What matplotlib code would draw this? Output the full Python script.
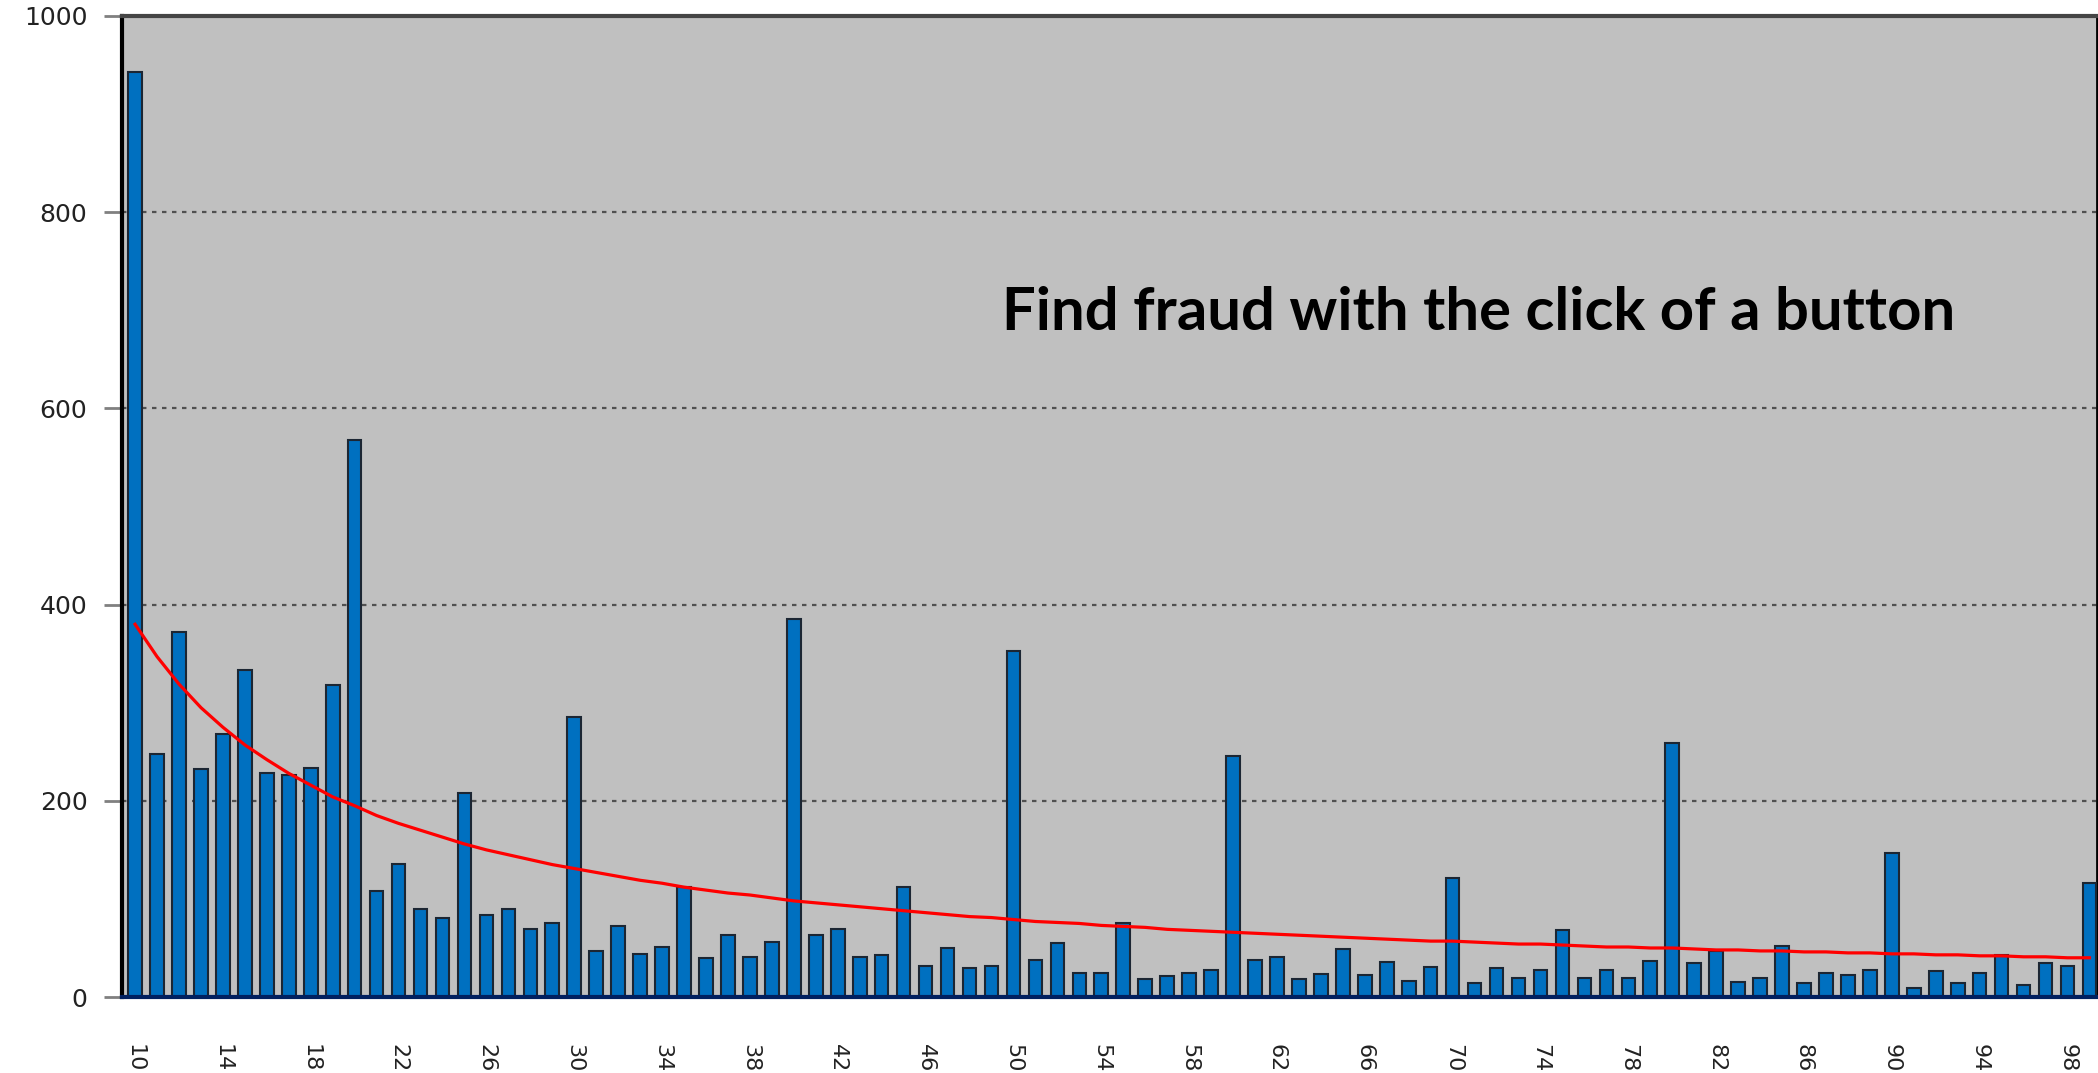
import matplotlib
matplotlib.use("Agg")
import matplotlib.pyplot as plt

# first-two-digit groups 10..99
digits = list(range(10, 100))

counts = [943, 248, 372, 232, 268, 333, 228, 226, 233, 318,
          568, 108, 136, 90, 81, 208, 84, 90, 69, 75,
          285, 47, 72, 44, 51, 112, 40, 63, 41, 56,
          385, 63, 69, 41, 43, 112, 32, 50, 30, 32,
          353, 38, 55, 25, 25, 75, 18, 21, 24, 28,
          246, 38, 41, 18, 23, 49, 22, 36, 16, 31,
          121, 14, 30, 19, 28, 68, 19, 28, 19, 37,
          259, 35, 47, 15, 19, 52, 14, 25, 22, 28,
          147, 9, 27, 14, 25, 43, 12, 35, 32, 116]

# expected curve (red line)
expected = [380, 347, 319, 295, 275, 257, 242, 228, 216, 204,
            195, 185, 177, 170, 163, 156, 150, 145, 140, 135,
            131, 127, 123, 119, 116, 112, 109, 106, 104, 101,
            98, 96, 94, 92, 90, 88, 86, 84, 82, 81,
            79, 77, 76, 75, 73, 72, 71, 69, 68, 67,
            66, 65, 64, 63, 62, 61, 60, 59, 58, 57,
            57, 56, 55, 54, 54, 53, 52, 51, 51, 50,
            50, 49, 48, 48, 47, 47, 46, 46, 45, 45,
            44, 44, 43, 43, 42, 42, 41, 41, 40, 40]

y_ticks = [0, 200, 400, 600, 800, 1000]
x_ticks = digits[::4]

fig = plt.figure(figsize=(20.98, 10.73), dpi=100)
ax = fig.add_axes([0.0582, 0.0708, 0.9414, 0.9143])
ax.set_facecolor('#c0c0c0')

ax.bar(digits, counts, width=0.62, color='#0070c0', edgecolor='#1c2633',
       linewidth=1.5, zorder=3)
ax.plot(digits, expected, color='#ff0000', linewidth=2.3, zorder=4)

ax.set_xlim(9.41, 99.35)
ax.set_ylim(0, 1000)

ax.set_yticks(y_ticks)
ax.set_yticklabels([str(v) for v in y_ticks], fontsize=18, color='#222222')
ax.tick_params(axis='y', length=13, width=2, color='#808080', pad=12)

ax.set_xticks(x_ticks)
ax.set_xticklabels([str(v) for v in x_ticks], rotation=270, fontsize=16,
                   color='#222222', va='top')
ax.tick_params(axis='x', length=0, pad=34)

ax.grid(axis='y', color='#505050', linestyle=(0, (2, 2.5)), linewidth=1.6, zorder=1)

ax.spines['top'].set_color('#454545')
ax.spines['top'].set_linewidth(3)
ax.spines['left'].set_color('#000000')
ax.spines['left'].set_linewidth(3)
ax.spines['right'].set_color('#000000')
ax.spines['right'].set_linewidth(2)
ax.spines['bottom'].set_color('#002060')
ax.spines['bottom'].set_linewidth(3)
ax.spines['bottom'].set_zorder(5)

ax.text(49.5, 680, "Find fraud with the click of a button", fontsize=43,
        fontweight='bold', family='Lato', color='black', ha='left', va='baseline',
        zorder=6)

fig.savefig('out.png', dpi=100, facecolor='white')
